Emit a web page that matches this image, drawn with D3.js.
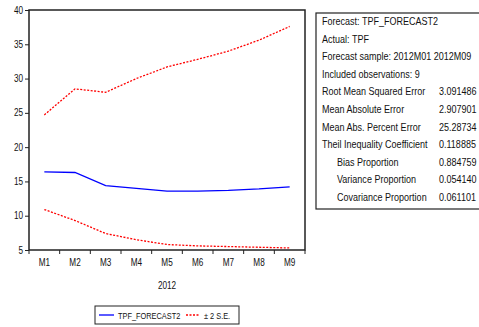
<!DOCTYPE html>
<html>
<head>
<meta charset="utf-8">
<script src="https://cdn.jsdelivr.net/npm/d3@7"></script>
<style>
  body { margin: 0; background: #fff; }
  svg text { font-family: "Liberation Sans", Arial, sans-serif; fill: #111; }
</style>
</head>
<body>
<div id="chart"></div>
<script>
// data
var months = ["M1", "M2", "M3", "M4", "M5", "M6", "M7", "M8", "M9"];
var forecast = [16.4, 16.3, 14.4, 14.0, 13.6, 13.6, 13.7, 13.9, 14.2];
var upperSE = [24.7, 28.5, 28.0, 30.0, 31.7, 32.8, 34.0, 35.6, 37.6];
var lowerSE = [10.9, 9.3, 7.4, 6.5, 5.8, 5.6, 5.5, 5.4, 5.3];
var yTicks = [5, 10, 15, 20, 25, 30, 35, 40];
var headerLines = ["Forecast: TPF_FORECAST2", "Actual: TPF", "Forecast sample: 2012M01 2012M09", "Included observations: 9"];
var statLabels = ["Root Mean Squared Error", "Mean Absolute Error", "Mean Abs. Percent Error",
  "Theil Inequality Coefficient", "Bias Proportion", "Variance Proportion", "Covariance Proportion"];
var statIndent = [false, false, false, false, true, true, true];
var statValues = ["3.091486", "2.907901", "25.28734", "0.118885", "0.884759", "0.054140", "0.061101"];

var W = 479, H = 327;
var plot = { left: 29, top: 10, right: 305, bottom: 250 };
var NARROW = 0.82;   // squeeze to look like Arial Narrow

var svg = d3.select("#chart").append("svg")
  .attr("width", W).attr("height", H);

// narrow text helper
function txt(parent, x, y, str, size, anchor) {
  return parent.append("text")
    .attr("transform", "translate(" + x + "," + y + ") scale(" + NARROW + ",1)")
    .attr("font-size", size)
    .attr("text-anchor", anchor || "start")
    .text(str);
}

var x = d3.scaleBand().domain(months).range([plot.left, plot.right]);
var y = d3.scaleLinear().domain([5, 40]).range([plot.bottom, plot.top]);

// frame
svg.append("rect")
  .attr("x", plot.left).attr("y", plot.top)
  .attr("width", plot.right - plot.left).attr("height", plot.bottom - plot.top)
  .attr("fill", "none").attr("stroke", "#222").attr("stroke-width", 1.5);

// y axis
var yAxis = d3.axisLeft(y).tickValues(yTicks).tickSize(4).tickFormat("");
var gy = svg.append("g").attr("transform", "translate(" + plot.left + ",0)").call(yAxis);
gy.select(".domain").remove();
gy.selectAll(".tick line").attr("stroke", "#222");
yTicks.forEach(function(t) {
  txt(svg, plot.left - 6, y(t) + 3.5, t, 10, "end");
});

// x axis: ticks on the band edges, labels in the middle
var edges = months.map(function(m) { return x(m); }).concat([plot.right]);
svg.append("g").selectAll("line").data(edges).enter().append("line")
  .attr("x1", function(d) { return d; }).attr("x2", function(d) { return d; })
  .attr("y1", plot.bottom).attr("y2", plot.bottom + 4).attr("stroke", "#222");
months.forEach(function(m) {
  txt(svg, x(m) + x.bandwidth() / 2, plot.bottom + 16, m, 10, "middle");
});
txt(svg, (plot.left + plot.right) / 2, 289, "2012", 10, "middle");

// lines
var line = d3.line()
  .x(function(d, i) { return x(months[i]) + x.bandwidth() / 2; })
  .y(function(d) { return y(d); });

svg.append("path").attr("d", line(upperSE))
  .attr("fill", "none").attr("stroke", "#ff0000").attr("stroke-width", 1.3).attr("stroke-dasharray", "2,1.5");
svg.append("path").attr("d", line(lowerSE))
  .attr("fill", "none").attr("stroke", "#ff0000").attr("stroke-width", 1.3).attr("stroke-dasharray", "2,1.5");
svg.append("path").attr("d", line(forecast))
  .attr("fill", "none").attr("stroke", "#0000ff").attr("stroke-width", 1.3);

// legend
var lg = svg.append("g").attr("transform", "translate(95,306)");
lg.append("rect").attr("width", 144).attr("height", 18)
  .attr("fill", "#fff").attr("stroke", "#222").attr("stroke-width", 1);
lg.append("line").attr("x1", 4).attr("x2", 19).attr("y1", 9).attr("y2", 9)
  .attr("stroke", "#0000ff").attr("stroke-width", 1.3);
txt(lg, 23, 12.5, "TPF_FORECAST2", 9);
lg.append("line").attr("x1", 91).attr("x2", 105).attr("y1", 9).attr("y2", 9)
  .attr("stroke", "#ff0000").attr("stroke-width", 1.3).attr("stroke-dasharray", "2,1.5");
txt(lg, 109, 12.5, "\u00b1 2 S.E.", 9);

// stats table
var tb = svg.append("g").attr("transform", "translate(316,13)");
tb.append("rect").attr("width", 175).attr("height", 196)
  .attr("fill", "#fff").attr("stroke", "#222").attr("stroke-width", 1.2);
var rowH = 17.6;
headerLines.forEach(function(s, i) {
  txt(tb, 6, 12 + i * rowH, s, 11);
});
statLabels.forEach(function(s, i) {
  txt(tb, statIndent[i] ? 21 : 6, 12 + (i + 4) * rowH, s, 11);
  txt(tb, 123, 12 + (i + 4) * rowH, statValues[i], 11);
});
</script>
</body>
</html>
